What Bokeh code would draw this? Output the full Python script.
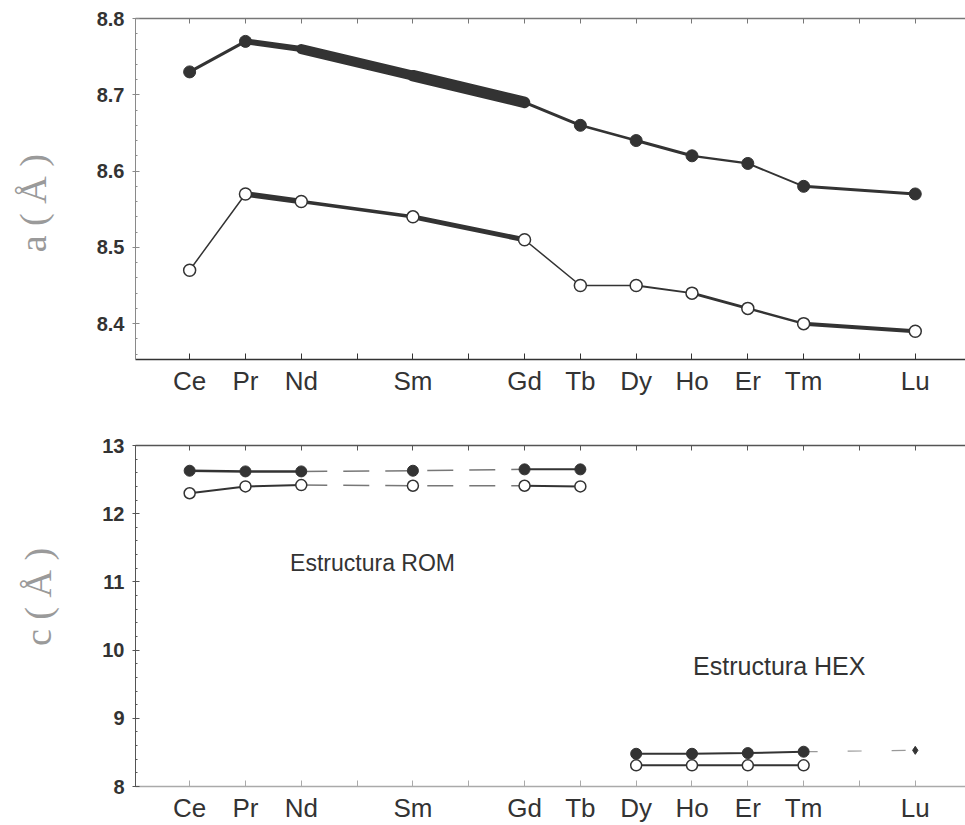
from bokeh.plotting import figure
from bokeh.layouts import column
from bokeh.models import FixedTicker, LinearAxis, Label, Range1d, ColumnDataSource
from bokeh.embed import file_html
from bokeh.resources import INLINE

# Lanthanides on the x axis, placed by atomic number
elements = ["Ce", "Pr", "Nd", "Sm", "Gd", "Tb", "Dy", "Ho", "Er", "Tm", "Lu"]
atomic_number = [58, 59, 60, 62, 64, 65, 66, 67, 68, 69, 71]
unlabelled_ticks = [61, 63, 70]  # Pm, Eu, Yb

# Lattice parameter a (Å), two sample series
a_filled = [8.73, 8.77, 8.76, 8.725, 8.69, 8.66, 8.64, 8.62, 8.61, 8.58, 8.57]
a_open = [8.47, 8.57, 8.56, 8.54, 8.51, 8.45, 8.45, 8.44, 8.42, 8.40, 8.39]

# Lattice parameter c (Å): rhombohedral (ROM) and hexagonal (HEX) structures
rom_elements = ["Ce", "Pr", "Nd", "Sm", "Gd", "Tb"]
c_rom_filled = [12.63, 12.62, 12.62, 12.63, 12.65, 12.65]
c_rom_open = [12.30, 12.40, 12.42, 12.41, 12.41, 12.40]
hex_elements = ["Dy", "Ho", "Er", "Tm", "Lu"]
c_hex_filled = [8.48, 8.48, 8.49, 8.51, 8.53]
hex_open_elements = ["Dy", "Ho", "Er", "Tm"]
c_hex_open = [8.31, 8.31, 8.31, 8.31]

Z = dict(zip(elements, atomic_number))
INK = "#333333"
X_RANGE = (57.03, 71.9)
FONT = "Liberation Sans"
NBSP = "\u00a0"
all_ticks = sorted(atomic_number + unlabelled_ticks)


def style_axes(p, y_ticks, left_color, bottom_color, top_color):
    xa = p.xaxis[0]
    xa.ticker = FixedTicker(ticks=atomic_number, minor_ticks=unlabelled_ticks)
    xa.major_label_overrides = dict(zip(atomic_number, elements))
    xa.major_label_text_font = FONT
    xa.major_label_text_font_size = "26px"
    xa.major_label_text_color = INK
    xa.major_tick_in = 6
    xa.major_tick_out = 0
    xa.minor_tick_in = 6
    xa.minor_tick_out = 0
    xa.axis_line_color = bottom_color
    xa.axis_line_width = 1.3
    xa.major_tick_line_color = bottom_color
    xa.minor_tick_line_color = bottom_color
    xa.major_label_standoff = 6

    ya = p.yaxis[0]
    ya.ticker = FixedTicker(ticks=y_ticks[0], minor_ticks=y_ticks[1])
    ya.major_label_text_font = FONT
    ya.major_label_text_font_style = "bold"
    ya.major_label_text_font_size = "20px"
    ya.major_label_text_color = INK
    ya.major_tick_in = 4
    ya.major_tick_out = 3
    ya.minor_tick_in = 2
    ya.minor_tick_out = 0
    ya.axis_line_color = left_color
    ya.major_tick_line_color = left_color
    ya.minor_tick_line_color = left_color
    ya.major_label_standoff = 8
    ya.axis_label_text_font = "Liberation Serif"
    ya.axis_label_text_font_style = "normal"
    ya.axis_label_text_font_size = "38px"
    ya.axis_label_text_color = "#9a9a9a"
    ya.axis_label_standoff = 40

    # top border: a bare axis carrying only inward ticks
    top = LinearAxis(ticker=FixedTicker(ticks=[], minor_ticks=all_ticks))
    top.major_label_standoff = 0
    top.major_tick_in = 0
    top.major_tick_out = 0
    top.minor_tick_in = 5
    top.minor_tick_out = 0
    top.axis_line_color = top_color
    top.minor_tick_line_color = top_color
    top.axis_line_width = 1.3
    p.add_layout(top, "above")

    p.xgrid.visible = False
    p.ygrid.visible = False
    p.outline_line_color = None


def segments(p, xs, ys, widths, color=INK):
    src = ColumnDataSource(dict(x0=xs[:-1], y0=ys[:-1], x1=xs[1:], y1=ys[1:], w=widths))
    p.segment("x0", "y0", "x1", "y1", source=src, line_width="w", line_color=color,
              line_cap="round")


# ---------- top panel: a ----------
p1 = figure(width=965, height=400, x_range=Range1d(*X_RANGE), y_range=Range1d(8.353, 8.8),
            output_backend="svg", toolbar_location=None,
            min_border_left=135, min_border_right=0, min_border_top=18, min_border_bottom=41)
a_yticks = ([8.4, 8.5, 8.6, 8.7, 8.8], [round(8.36 + 0.02 * i, 2) for i in range(23)])
style_axes(p1, a_yticks, "#8a8a8a", INK, "#777777")
p1.yaxis.axis_label = "a ( Å )" + NBSP * 3

xs = [Z[e] for e in elements]
segments(p1, xs, a_filled, [3, 6, 10, 11.5, 3, 2.5, 3, 2.2, 2, 3])
segments(p1, xs, a_open, [1.5, 5.5, 3.5, 5, 1.5, 1.5, 2, 3, 2.5, 4])

hidden = {"Nd", "Sm", "Gd"}  # points buried under the thick trace
fx = [Z[e] for e in elements if e not in hidden]
fy = [v for e, v in zip(elements, a_filled) if e not in hidden]
p1.scatter(fx, fy, size=12, marker="circle", fill_color=INK, line_color=INK)
p1.scatter(xs, a_open, size=12, marker="circle", fill_color="white", line_color=INK, line_width=1.5)

# ---------- bottom panel: c ----------
p2 = figure(width=965, height=425, x_range=Range1d(*X_RANGE), y_range=Range1d(8, 13),
            output_backend="svg", toolbar_location=None,
            min_border_left=135, min_border_right=0, min_border_top=45, min_border_bottom=38)
c_yticks = ([8, 9, 10, 11, 12, 13], [round(8 + 0.2 * i, 1) for i in range(26)])
style_axes(p2, c_yticks, "#555555", "#aaaaaa", "#555555")
p2.yaxis.axis_label = NBSP * 4 + "c ( Å )"

rx = [Z[e] for e in rom_elements]
# ROM: solid where traced, broken between Nd and Gd
for ys, w in ((c_rom_filled, 2.5), (c_rom_open, 2)):
    p2.line(rx[:3], ys[:3], line_width=w, line_color=INK)
    p2.line(rx[2:5], ys[2:5], line_width=1.5, line_color="#555555", line_dash="26 16", line_alpha=0.8)
    p2.line(rx[4:], ys[4:], line_width=2, line_color=INK)
p2.scatter(rx, c_rom_filled, size=11, marker="circle", fill_color=INK, line_color=INK)
p2.scatter(rx, c_rom_open, size=11, marker="circle", fill_color="white", line_color=INK, line_width=1.5)

hx = [Z[e] for e in hex_elements]
hox = [Z[e] for e in hex_open_elements]
p2.line(hx[:4], c_hex_filled[:4], line_width=2, line_color=INK)
p2.line(hx[3:], c_hex_filled[3:], line_width=1.2, line_color="#999999", line_dash="14 30")
p2.line(hox, c_hex_open, line_width=2, line_color=INK)
p2.scatter(hx[:4], c_hex_filled[:4], size=11, marker="circle", fill_color=INK, line_color=INK)
p2.scatter(hx[4:], c_hex_filled[4:], size=8, marker="diamond", fill_color=INK, line_color=INK)
p2.scatter(hox, c_hex_open, size=11, marker="circle", fill_color="white", line_color=INK, line_width=1.5)

p2.add_layout(Label(x=59.8, y=11.28, text="Estructura ROM", text_font=FONT, text_font_size="23px",
                    text_color=INK, text_baseline="middle"))
p2.add_layout(Label(x=67.02, y=9.76, text="Estructura HEX", text_font=FONT, text_font_size="25px",
                    text_color=INK, text_baseline="middle"))

layout = column(p1, p2, spacing=0)
open("out.html", "w").write(file_html(layout, INLINE))
